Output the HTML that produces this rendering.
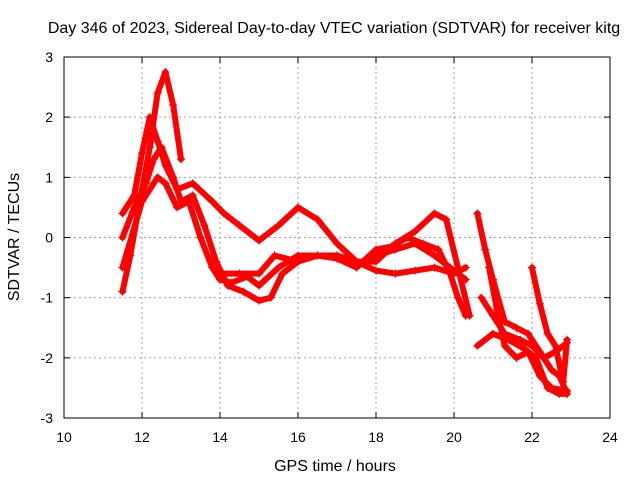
<!DOCTYPE html>
<html><head><meta charset="utf-8"><style>
body{margin:0;background:#fff;}
svg{display:block;font-family:"Liberation Sans",sans-serif;}
</style></head><body>
<svg id="chart" width="640" height="480">
<text x="334" y="33" font-size="16" text-anchor="middle">Day 346 of 2023, Sidereal Day-to-day VTEC variation (SDTVAR) for receiver kitg</text>
<text transform="translate(19,237) rotate(-90)" font-size="16" text-anchor="middle">SDTVAR / TECUs</text>
<text x="335" y="471" font-size="16" text-anchor="middle">GPS time / hours</text>
<g id="grid"></g><g id="marks"></g>
<rect x="64" y="57" width="546" height="361" fill="none" stroke="#000" stroke-width="1"/>
</svg>
<script>
const xTicks=[10,12,14,16,18,20,22,24];
const yTicks=[-3,-2,-1,0,1,2,3];
const track1=[[11.5,-0.9],[11.7,-0.3],[12.0,0.8],[12.2,1.5],[12.4,2.4],[12.6,2.75],[12.8,2.2],[13.0,1.3]];
const track2=[[11.5,0.4],[11.8,0.7],[12.0,1.4],[12.2,2.0],[12.4,1.6],[12.6,1.2],[12.9,0.8],[13.3,0.9],[13.8,0.6],[14.1,0.4],[14.5,0.2],[15.0,-0.05],[15.5,0.2],[16.0,0.5],[16.5,0.3],[17.0,-0.1],[17.5,-0.4],[18.0,-0.4],[18.5,-0.1],[19.0,0.1],[19.5,0.4],[19.8,0.3],[20.1,-0.5],[20.4,-1.3]];
const track3=[[11.5,0.0],[11.8,0.5],[12.1,0.9],[12.3,1.3],[12.5,1.5],[12.8,1.0],[13.0,0.6],[13.3,0.7],[13.6,0.2],[13.9,-0.4],[14.2,-0.8],[14.6,-0.9],[15.0,-1.05],[15.3,-1.0],[15.6,-0.6],[16.0,-0.4],[16.5,-0.3],[17.0,-0.3],[17.5,-0.4],[18.0,-0.55],[18.5,-0.6],[19.0,-0.55],[19.5,-0.5],[20.0,-0.6],[20.3,-0.5]];
const track4=[[11.5,-0.5],[12.0,0.6],[12.4,1.0],[12.6,0.9],[12.9,0.5],[13.2,0.6],[13.5,0.0],[13.8,-0.5],[14.0,-0.7],[14.3,-0.75],[14.7,-0.65],[15.0,-0.8],[15.5,-0.5],[16.0,-0.3],[16.5,-0.3],[17.0,-0.3],[17.5,-0.45],[18.0,-0.3],[18.5,-0.2],[19.0,-0.1],[19.5,-0.3],[19.9,-0.5],[20.3,-0.7]];
const track5=[[14.0,-0.6],[14.5,-0.6],[15.0,-0.6],[15.4,-0.3],[16.0,-0.4],[16.5,-0.3],[17.0,-0.35],[17.5,-0.5],[18.0,-0.2],[18.4,-0.15],[18.8,0.0],[19.2,-0.1],[19.6,-0.2],[19.9,-0.6],[20.1,-1.0],[20.3,-1.3]];
const track6=[[20.6,0.4],[20.8,-0.2],[21.0,-0.7],[21.3,-1.4],[21.6,-1.5],[21.9,-1.6],[22.2,-1.9],[22.5,-2.2],[22.7,-2.3],[22.9,-2.6]];
const track7=[[20.6,-1.8],[21.0,-1.6],[21.4,-1.7],[21.8,-1.85],[22.1,-2.0],[22.4,-2.5],[22.7,-2.6],[22.9,-2.6]];
const track8=[[20.7,-1.0],[21.0,-1.3],[21.3,-1.6],[21.7,-1.7],[22.0,-1.8],[22.3,-2.0],[22.6,-1.9],[22.9,-1.75]];
const track9=[[22.0,-0.5],[22.2,-1.1],[22.4,-1.6],[22.6,-1.8],[22.8,-2.4],[22.9,-1.7]];
const track10=[[20.9,-0.5],[21.1,-1.2],[21.3,-1.8],[21.6,-2.0],[21.9,-1.9],[22.2,-2.3],[22.5,-2.5],[22.9,-2.55]];
const tracks=[track1,track2,track3,track4,track5,track6,track7,track8,track9,track10];

const NS="http://www.w3.org/2000/svg";
const X=v=>64+(v-10)*546/14;
const Y=v=>237.5-v*361/6;
const grid=document.getElementById('grid'),marks=document.getElementById('marks'),svg=document.getElementById('chart');
function mk(t,a,p){const e=document.createElementNS(NS,t);for(const k in a)e.setAttribute(k,a[k]);p.appendChild(e);return e;}
xTicks.forEach(t=>{
 if(t>10&&t<24){const l=mk('line',{x1:X(t),x2:X(t),y1:57,y2:418,stroke:'#a0a0a0','stroke-dasharray':'2,3'},grid);
 }
 const tk=mk('path',{d:`M${X(t)},418v-6M${X(t)},57v6`,stroke:'#000'},grid);
 
 const tx=mk('text',{x:X(t),y:442,'font-size':14,'text-anchor':'middle'},svg);tx.textContent=t;
 
});
yTicks.forEach(t=>{
 if(t>-3&&t<3){const l=mk('line',{x1:64,x2:610,y1:Y(t),y2:Y(t),stroke:'#a0a0a0','stroke-dasharray':'2,3'},grid);
 }
 const tk=mk('path',{d:`M64,${Y(t)}h6M610,${Y(t)}h-6`,stroke:'#000'},grid);
 
 const tx=mk('text',{x:53,y:Y(t)+5,'font-size':14,'text-anchor':'end'},svg);tx.textContent=t;
 
});
tracks.forEach((tr,i)=>{
 const pl=mk('polyline',{points:tr.map(p=>X(p[0])+','+Y(p[1])).join(' '),fill:'none',stroke:'#f00','stroke-width':6,'stroke-linejoin':'round','stroke-linecap':'round'},marks);
 
 
 tr.forEach(p=>{const m=mk('path',{d:`M${X(p[0])-4},${Y(p[1])}h8M${X(p[0])},${Y(p[1])-4}v8`,stroke:'#f00','stroke-width':1.2},marks);
  
  });
});
</script>
</body></html>
